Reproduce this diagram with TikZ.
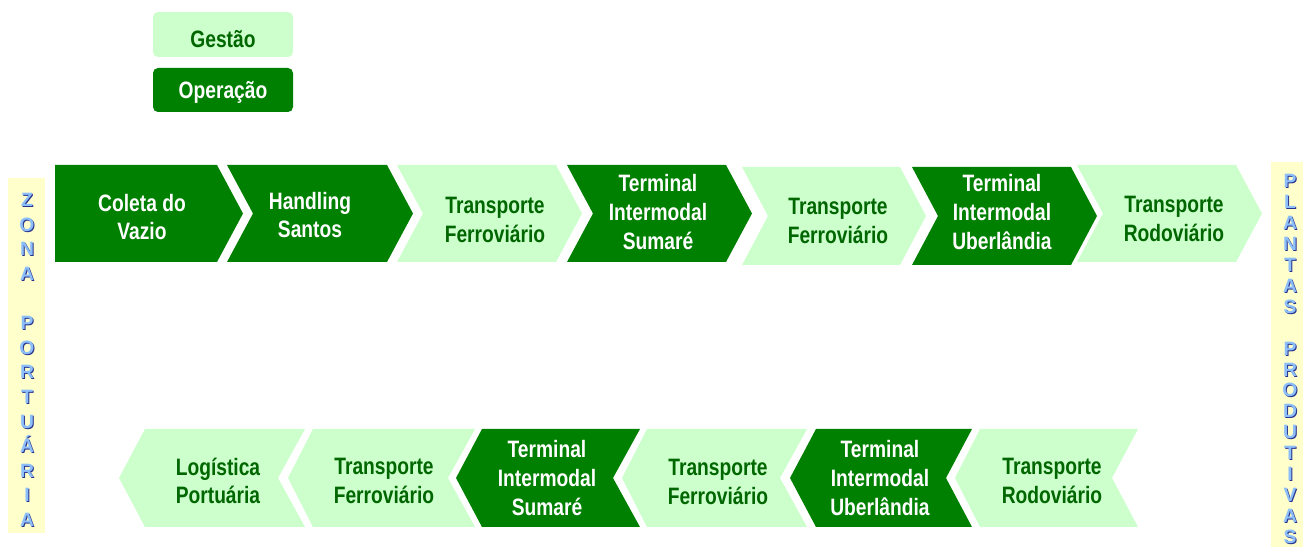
\documentclass[tikz,border=0pt]{standalone}
\usepackage{fontspec}
\setmainfont{Liberation Sans}[FakeStretch=0.81]
\newfontfamily\widesans{Liberation Sans}
\usepackage{xcolor}
\usepackage{tikz}
\usetikzlibrary{positioning}

\definecolor{darkgreen}{RGB}{0,128,0}
\definecolor{palegreen}{RGB}{204,255,204}
\definecolor{textgreen}{RGB}{0,102,0}
\definecolor{paleyellow}{RGB}{255,255,204}
\definecolor{letterblue}{RGB}{140,190,250}
\definecolor{shadeblue}{RGB}{40,50,140}

\begin{document}
\begin{tikzpicture}
  [
    x=0.02cm, y=-0.02cm,
    Dark/.style={fill=darkgreen},
    Light/.style={fill=palegreen},
    OnDark/.style={text=white, align=center, inner sep=0pt, font={\fontsize{13.5pt}{16.3pt}\selectfont\bfseries}},
    OnLight/.style={OnDark, text=textgreen},
    Bar/.style={fill=paleyellow},
    Letters/.style={text=letterblue, align=center, inner sep=0pt, font={\widesans\fontsize{11pt}{14pt}\selectfont\bfseries}},
    Shade/.style={Letters, text=shadeblue}
  ]
  \useasboundingbox (0,0) rectangle (1303,547);

  % Legend
  \fill[Light, rounded corners=0.1cm] (153,12) rectangle (293,57);
  \node[OnLight] (gestao) at (223,39.5) {Gestão};
  \fill[Dark, rounded corners=0.1cm] (153,68) rectangle (293,112);
  \node[OnDark] (operacao) at (223,92) {Operação};

  % Side bars
  \fill[Bar] (8,178) rectangle (45,533);
  \node[Shade] (zona shadow) at (28,361) {Z\\O\\N\\A\\~\\P\\O\\R\\T\\U\\Á\\R\\I\\A};
  \node[Letters] (zona) at (27,360) {Z\\O\\N\\A\\~\\P\\O\\R\\T\\U\\Á\\R\\I\\A};

  \fill[Bar] (1271,162) rectangle (1303,547);
  \node[Shade, font={\widesans\fontsize{11pt}{11.9pt}\selectfont\bfseries}] (plantas shadow) at (1291,360)
    {P\\L\\A\\N\\T\\A\\S\\~\\P\\R\\O\\D\\U\\T\\I\\V\\A\\S};
  \node[Letters, font={\widesans\fontsize{11pt}{11.9pt}\selectfont\bfseries}] (plantas) at (1290,359)
    {P\\L\\A\\N\\T\\A\\S\\~\\P\\R\\O\\D\\U\\T\\I\\V\\A\\S};

  % Top row, towards the plants
  \fill[Dark] (55,165) -- (217,165) -- (243,213.5) -- (217,262) -- (55,262) -- cycle;
  \node[OnDark] (t1) at (142,217) {Coleta do\\Vazio};

  \fill[Dark] (227,165) -- (387,165) -- (413,213.5) -- (387,262) -- (227,262) -- (253,213.5) -- cycle;
  \node[OnDark] (t2) at (310,215) {Handling\\Santos};

  \fill[Light] (397,165) -- (556,165) -- (582,213.5) -- (556,262) -- (397,262) -- (423,213.5) -- cycle;
  \node[OnLight] (t3) at (495,220) {Transporte\\Ferroviário};

  \fill[Dark] (567,165) -- (726,165) -- (752,213.5) -- (726,262) -- (567,262) -- (593,213.5) -- cycle;
  \node[OnDark] (t4) at (658,212) {Terminal\\Intermodal\\Sumaré};

  \fill[Light] (742,167) -- (900,167) -- (926,216) -- (900,265) -- (742,265) -- (768,216) -- cycle;
  \node[OnLight] (t5) at (838,221) {Transporte\\Ferroviário};

  \fill[Dark] (912,167) -- (1071,167) -- (1097,216) -- (1071,265) -- (912,265) -- (938,216) -- cycle;
  \node[OnDark] (t6) at (1002,212) {Terminal\\Intermodal\\Uberlândia};

  \fill[Light] (1077,165) -- (1236,165) -- (1262,213.5) -- (1236,262) -- (1077,262) -- (1103,213.5) -- cycle;
  \node[OnLight] (t7) at (1174,219) {Transporte\\Rodoviário};

  % Bottom row, back to the port
  \fill[Light] (119,478) -- (145,429) -- (305,429) -- (278,478) -- (305,527) -- (145,527) -- cycle;
  \node[OnLight] (b1) at (218,481) {Logística\\Portuária};

  \fill[Light] (288,478) -- (313,429) -- (475,429) -- (448,478) -- (475,527) -- (313,527) -- cycle;
  \node[OnLight] (b2) at (384,481) {Transporte\\Ferroviário};

  \fill[Dark] (456,478) -- (482,429) -- (640,429) -- (613,478) -- (640,527) -- (482,527) -- cycle;
  \node[OnDark] (b3) at (547,478) {Terminal\\Intermodal\\Sumaré};

  \fill[Light] (622,478) -- (647,429) -- (807,429) -- (780,478) -- (807,527) -- (647,527) -- cycle;
  \node[OnLight] (b4) at (718,482) {Transporte\\Ferroviário};

  \fill[Dark] (790,478) -- (816,429) -- (972,429) -- (946,478) -- (972,527) -- (816,527) -- cycle;
  \node[OnDark] (b5) at (880,478) {Terminal\\Intermodal\\Uberlândia};

  \fill[Light] (955,478) -- (980,429) -- (1138,429) -- (1112,478) -- (1138,527) -- (980,527) -- cycle;
  \node[OnLight] (b6) at (1052,481) {Transporte\\Rodoviário};

\end{tikzpicture}
\end{document}
